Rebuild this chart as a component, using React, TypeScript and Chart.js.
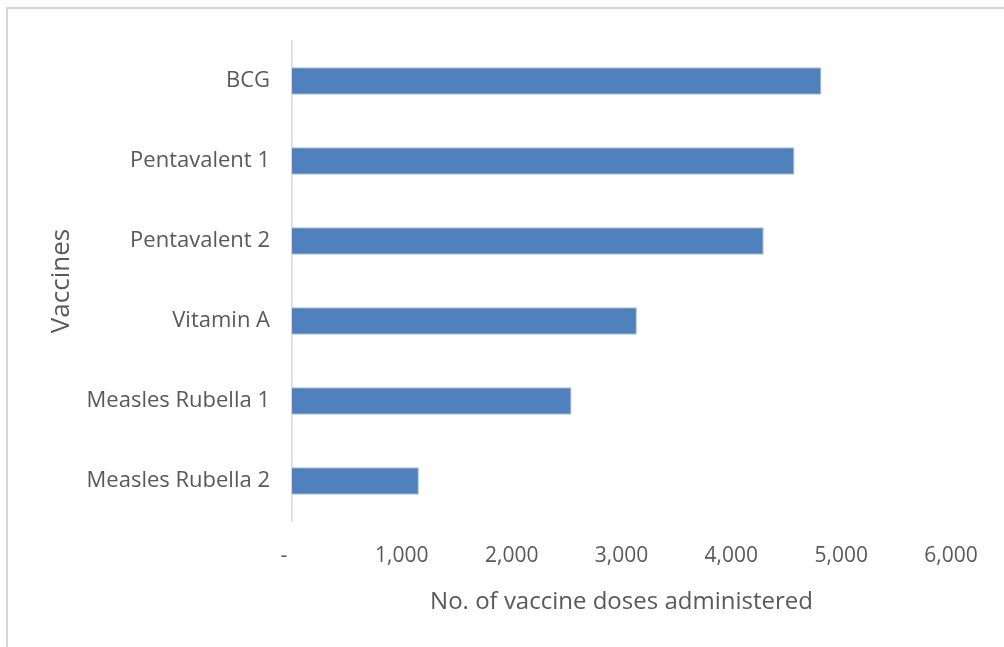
import React, { useEffect, useRef } from "react";
import { Chart, registerables } from "chart.js";

Chart.register(...registerables);

const categories = [
  "BCG",
  "Pentavalent 1",
  "Pentavalent 2",
  "Vitamin A",
  "Measles Rubella 1",
  "Measles Rubella 2",
];
const doses = [4820, 4575, 4295, 3140, 2545, 1155];
const xTickValues = [0, 1000, 2000, 3000, 4000, 5000, 6000];
const xAxisTitle = "No. of vaccine doses administered";
const yAxisTitle = "Vaccines";

const FONT = "'Open Sans', sans-serif";
const TEXT = "#595959";

export default function App() {
  const ref = useRef<HTMLCanvasElement | null>(null);

  useEffect(() => {
    if (!ref.current) return;
    const chart = new Chart(ref.current, {
      type: "bar",
      data: {
        labels: categories,
        datasets: [
          {
            data: doses,
            backgroundColor: "#4F81BD",
            borderColor: "#a9c1df",
            borderWidth: 1,
            categoryPercentage: 1,
            barPercentage: 0.345,
          },
        ],
      },
      options: {
        indexAxis: "y",
        responsive: false,
        animation: false,
        layout: { padding: { top: 41, right: 53, bottom: 0, left: 0 } },
        plugins: {
          legend: { display: false },
          tooltip: { enabled: false },
          title: { display: false },
        },
        scales: {
          x: {
            type: "linear",
            min: 0,
            max: 6000,
            afterBuildTicks: (scale: any) => {
              scale.ticks = xTickValues.map((v) => ({ value: v }));
            },
            afterFit: (scale: any) => {
              scale.height = 126;
            },
            grid: { display: false, drawTicks: false },
            border: { display: false },
            ticks: {
              padding: 22,
              color: TEXT,
              font: { family: FONT, size: 21 },
              maxRotation: 0,
              callback: (v: any) =>
                Number(v) === 0 ? "-   " : Number(v).toLocaleString("en-US"),
            },
            title: {
              display: true,
              text: xAxisTitle,
              color: TEXT,
              font: { family: FONT, size: 24 },
              padding: { top: 0, bottom: 30 },
            },
          },
          y: {
            afterFit: (scale: any) => {
              scale.width = 292;
            },
            grid: { display: false, drawTicks: false },
            border: { display: true, color: "#d9d9d9", width: 1.5 },
            ticks: {
              padding: 22,
              color: TEXT,
              font: { family: FONT, size: 22 },
            },
            title: {
              display: true,
              text: yAxisTitle,
              color: TEXT,
              font: { family: FONT, size: 26 },
              padding: { top: 46, bottom: 0 },
            },
          },
        },
      },
    });
    return () => chart.destroy();
  }, []);

  return (
    <div style={{ position: "absolute", left: 0, top: 0, width: 1004, height: 647, overflow: "hidden", background: "#fff" }}>
      <div
        style={{
          position: "absolute",
          left: 6,
          top: 7,
          width: 998,
          height: 640,
          boxSizing: "border-box",
          borderTop: "2px solid #d6d6d6",
          borderLeft: "2px solid #d6d6d6",
        }}
      />
      <canvas
        ref={ref}
        width={1004}
        height={647}
        style={{ position: "absolute", left: 0, top: 0, width: 1004, height: 647 }}
      />
    </div>
  );
}
